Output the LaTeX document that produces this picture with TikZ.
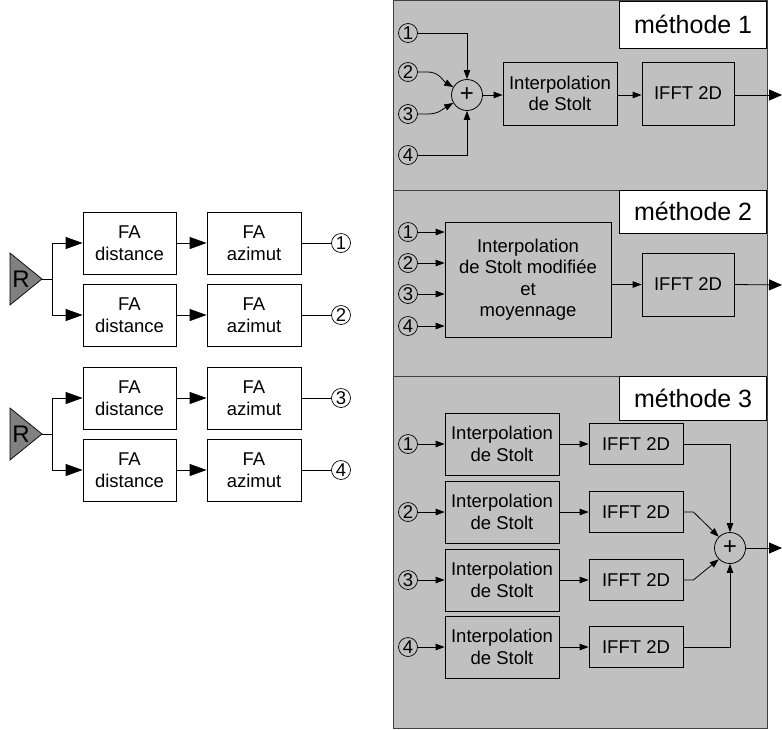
\documentclass[tikz,border=0pt]{standalone}
\usepackage{fontspec}
\setmainfont{Liberation Sans}
\usetikzlibrary{arrows.meta}
\definecolor{panelgray}{RGB}{192,192,192}
\definecolor{trigray}{RGB}{128,128,128}
\begin{document}
\begin{tikzpicture}[x=1pt,y=-1pt,line width=0.8pt,
  font=\fontsize{18.5}{21.5}\selectfont,
  box/.style={draw,inner sep=0pt,align=center},
  num/.style={circle,draw,inner sep=0pt,minimum size=19,line width=0.7pt,font=\fontsize{18.5}{18.5}\selectfont},
  sumnode/.style={circle,draw,inner sep=0pt,minimum size=31,font=\fontsize{24}{24}\selectfont},
  lbl/.style={draw,fill=white,inner sep=0pt,minimum width=147,minimum height=44,anchor=north east,font=\fontsize{25}{25}\selectfont},
  asmall/.style={-{Triangle[length=9pt,width=6.5pt]}},
  abig/.style={-{Triangle[length=17pt,width=12pt]}},
  aout/.style={-{Triangle[length=13pt,width=11pt]}}]
\useasboundingbox (0,0) rectangle (782,729);

% ---------- left part ----------
\foreach \k/\y in {1/243,2/315,3/398,4/470}{
  \node[box,minimum width=93,minimum height=62] (D\k) at (129.5,\y) {FA\\distance};
  \node[box,minimum width=94,minimum height=62] (A\k) at (254,\y) {FA\\azimut};
  \node[num] (n\k) at (341,\y) {\k};
  \draw[abig] (D\k) -- (A\k);
  \draw (A\k) -- (n\k);
}
\foreach \k/\y/\p/\q in {1/279/1/2,2/434/3/4}{
  \filldraw[fill=trigray,line width=0.7pt] (10,\y-26) -- (42,\y) -- (10,\y+26) -- cycle;
  \coordinate (t\k) at (42,\y);
  \node[font=\fontsize{24}{24}\selectfont] (r\k) at (21,\y) {R};
  \coordinate (b\k) at (52,\y);
  \draw (t\k) -- (b\k);
  \draw[abig] (b\k) |- (D\p.west);
  \draw[abig] (b\k) |- (D\q.west);
}

% ---------- panel ----------
\filldraw[fill=panelgray,draw=black!75] (393,0.5) rectangle (767,728);
\draw[black!75] (393,190) -- (767,190);
\draw[black!75] (393,376) -- (767,376);
\node[lbl,minimum height=47] (L1) at (767,0.5) {méthode 1};
\node[lbl,minimum height=43] (L2) at (767,190) {méthode 2};
\node[lbl,minimum height=44] (L3) at (767,376) {méthode 3};

% ---------- method 1 ----------
\node[num] (a1) at (408,33) {1};
\node[num] (a2) at (408,72) {2};
\node[num] (a3) at (408,114) {3};
\node[num] (a4) at (408,155) {4};
\node[sumnode] (p1) at (467,95) {+};
\node[box,minimum width=114,minimum height=63] (I1) at (560,93.5) {Interpolation\\de Stolt};
\node[box,minimum width=92,minimum height=63] (F1) at (688,93.5) {IFFT 2D};
\coordinate (o1) at (782,95);
\draw[asmall] (a1.east) -| (p1.north);
\draw[asmall] (a4.east) -| (p1.south);
\draw[asmall] (a2.east) -- ++(10,0) to[out=0,in=150] (p1.150);
\draw[asmall] (a3.east) -- ++(10,0) to[out=0,in=210] (p1.210);
\draw[asmall] (p1.east) -- (p1.east -| I1.west);
\draw[asmall] (I1.east |- p1.east) -- (F1.west |- p1.east);
\draw[aout] (F1.east |- p1.east) -- (o1);

% ---------- method 2 ----------
\node[box,minimum width=166,minimum height=115] (I2) at (528,279.5) {Interpolation\\de Stolt modifiée\\et\\moyennage};
\node[box,minimum width=92,minimum height=63] (F2) at (688,284.5) {IFFT 2D};
\foreach \k/\y in {1/232,2/263,3/294,4/326}{
  \node[num] (c\k) at (408,\y) {\k};
  \draw[asmall] (c\k.east) -- (c\k.east -| I2.west);
}
\coordinate (o2) at (782,285);
\draw[asmall] (I2.east |- F2.west) -- (F2.west);
\draw[aout] (F2.east) -- (o2);

% ---------- method 3 ----------
\node[sumnode] (p3) at (730,548) {+};
\foreach \k/\y in {1/444,2/512,3/580,4/647}{
  \node[num] (e\k) at (408,\y) {\k};
  \node[box,minimum width=114,minimum height=62] (J\k) at (502,\y) {Interpolation\\de Stolt};
  \node[box,minimum width=94,minimum height=41] (G\k) at (636,\y) {IFFT 2D};
  \draw[asmall] (e\k.east) -- (J\k.west);
  \draw[asmall] (J\k) -- (G\k);
}
\draw[asmall] (G1.east) -| (p3.north);
\draw[asmall] (G4.east) -| (p3.south);
\draw[asmall] (G2.east) -- ++(10,0) -- (p3.135);
\draw[asmall] (G3.east) -- ++(10,0) -- (p3.225);
\coordinate (o3) at (782,548);
\draw[aout] (p3.east) -- (o3);
\end{tikzpicture}
\end{document}
